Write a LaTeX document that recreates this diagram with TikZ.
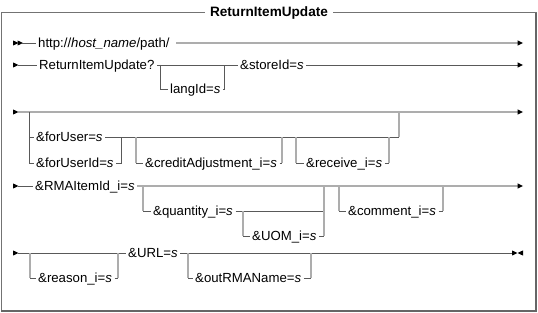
\documentclass[tikz,border=0pt]{standalone}
\usepackage{fontspec}
\setmainfont{Liberation Sans}

\newcommand{\optpath}[3]{% left rail point, branch node, right rail point
  \draw[skip] (#1) -- (#1 |- #2);
  \draw[rail] (#1 |- #2) -- (#2) -- (#3 |- #2);
  \draw[skip] (#3 |- #2) -- (#3);}

\begin{document}
\begin{tikzpicture}[x=1pt, y=-1pt, line cap=butt, line join=miter, font=\fontsize{13.2}{15}\selectfont]
	\tikzset{term/.style={anchor=west, inner xsep=2.5pt, inner ysep=0pt, text height=9.4pt, text depth=0pt},
		rail/.style={draw=black!65, line width=0.6pt},
		skip/.style={draw=black!32, line width=1.4pt},
		tip/.pic={\fill (0,-2.6)--(5.4,0)--(0,2.6)--cycle;},
		backtip/.pic={\fill (0,-2.6)--(-5.4,0)--(0,2.6)--cycle;}}
	\useasboundingbox (0,0) rectangle (538,313);
	% frame and title
	\draw[black!55, line width=1pt] (1,13) rectangle (536,311);
	\draw[black!60, line width=2pt] (1,311) -- (536,311) -- (536,13);
	\node[fill=white, inner xsep=5pt, font=\fontsize{13.6}{15}\selectfont\bfseries] (title) at (269,13) {ReturnItemUpdate};
	% row 1
	\pic at (13,43) {tip}; \pic at (17.5,43) {tip};
	\coordinate (r1s) at (22,43); \coordinate (r1e) at (517.6,43);
	\node[term] (url) at (35.5,43) {http://\textit{host\_name}/path/};
	\draw[rail] (r1s) -- (url);
	\draw[skip,shorten <=4pt] (url) -- (r1e);
	\pic at (r1e) {tip};
	% row 2
	\pic at (13,65) {tip};
	\coordinate (r2s) at (18,65); \coordinate (r2e) at (517.6,65);
	\node[term] (rtn) at (36.5,65) {ReturnItemUpdate?};
	\node[term] (lang) at (167.5,89) {langId=\textit{s}};
	\node[term] (store) at (237.5,65) {\&storeId=\textit{s}};
	\coordinate (l1) at (160,65); \coordinate (l2) at (224,65);
	\draw[rail] (r2s) -- (rtn) -- (store);
	\draw[rail] (l1) |- (lang) -| (l2);
	\draw[rail] (store) -- (r2e);
	\pic at (r2e) {tip};
	% row 3
	\pic at (13,112) {tip};
	\coordinate (r3s) at (18,112); \coordinate (r3e) at (517.6,112);
	\draw[skip] (r3s) -- (r3e);
	\pic at (r3e) {tip};
	\node[term] (foru) at (33.5,137) {\&forUser=\textit{s}};
	\node[term] (forui) at (33.5,163) {\&forUserId=\textit{s}};
	\node[term] (credit) at (142.5,163) {\&creditAdjustment\_i=\textit{s}};
	\node[term] (recv) at (303.5,163) {\&receive\_i=\textit{s}};
	\coordinate (a1) at (29,112); \coordinate (a2) at (399,112);
	\coordinate (j1) at (121,137);
	\coordinate (c1) at (136,137); \coordinate (c2) at (282,137);
	\coordinate (v1) at (296,137); \coordinate (v2) at (389,137);
	\draw[rail] (a1) |- (forui) -| (j1);
	\draw[rail] (a1 |- foru) -- (foru) -- (a2 |- foru);
	\draw[skip] (a2 |- foru) -- (a2);
	\optpath{c1}{credit}{c2}
	\optpath{v1}{recv}{v2}
	% row 4
	\pic at (13,186) {tip};
	\coordinate (r4s) at (18,186); \coordinate (r4e) at (517.6,186);
	\node[term] (rma) at (32.5,186) {\&RMAItemId\_i=\textit{s}};
	\node[term] (qty) at (150.5,211) {\&quantity\_i=\textit{s}};
	\node[term] (uom) at (249.5,236) {\&UOM\_i=\textit{s}};
	\node[term] (cmt) at (345.5,211) {\&comment\_i=\textit{s}};
	\draw[rail] (r4s) -- (rma);
	\draw[skip] (rma) -- (r4e);
	\pic at (r4e) {tip};
	\coordinate (q1) at (143,186); \coordinate (q2) at (324,186);
	\coordinate (u1) at (243,211);
	\coordinate (m1) at (339,186); \coordinate (m2) at (443,186);
	\optpath{q1}{qty}{q2}
	\optpath{u1}{uom}{q2}
	\optpath{m1}{cmt}{m2}
	% row 5
	\pic at (13,253) {tip};
	\coordinate (r5s) at (18,253); \coordinate (r5e) at (512,253);
	\node[term] (urlp) at (125.5,253) {\&URL=\textit{s}};
	\node[term] (reason) at (35.5,278) {\&reason\_i=\textit{s}};
	\node[term] (outrma) at (192.5,278) {\&outRMAName=\textit{s}};
	\draw[rail] (r5s) -- (urlp) -- (r5e);
	\coordinate (e1) at (30,253); \coordinate (e2) at (118,253);
	\coordinate (o1) at (188,253); \coordinate (o2) at (311,253);
	\optpath{e1}{reason}{e2}
	\optpath{o1}{outrma}{o2}
	\pic at (r5e) {tip}; \pic at (523,253) {backtip};
\end{tikzpicture}
\end{document}
